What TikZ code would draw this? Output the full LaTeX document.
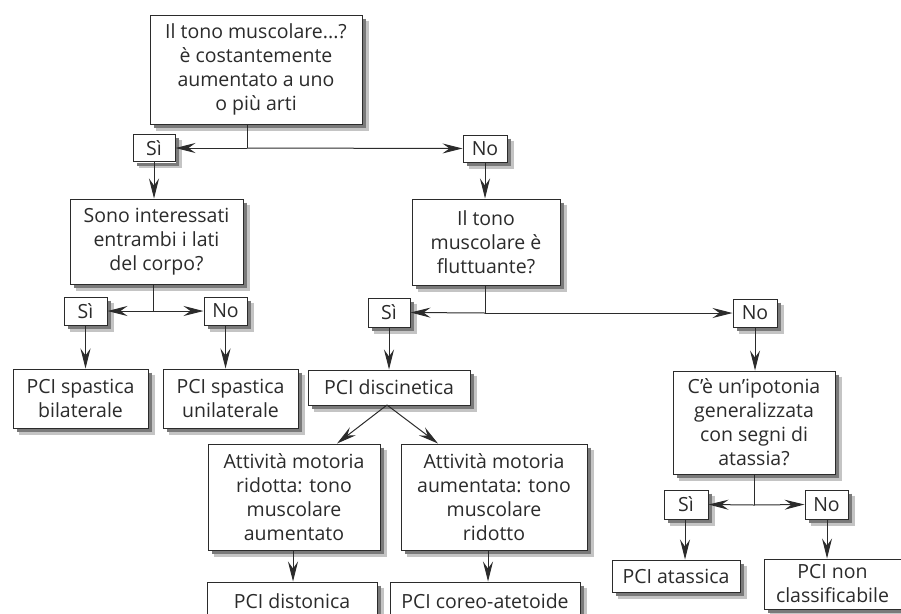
\documentclass[tikz,border=0pt]{standalone}
\usepackage{fontspec}
\setmainfont{Open Sans}
\usetikzlibrary{arrows.meta}
\definecolor{ink}{HTML}{2B2B2B}
\definecolor{shade}{HTML}{7A7A7A}
\definecolor{shadel}{HTML}{C4C4C4}
\tikzset{
  box/.style={draw=ink, line width=1pt, fill=white, align=center, inner sep=0pt,
    text=ink, font=\fontsize{19.5}{24}\selectfont},
  lab/.style={box},
  shadowA/.style={draw=shadel, line width=2.5pt},
  shadowB/.style={draw=shade, line width=3pt},
  arr/.style={draw=ink, line width=1pt, -{Stealth[length=20pt,width=10pt,inset=7pt,fill=ink]}},
  ln/.style={draw=ink, line width=1pt},
}
\begin{document}
\begin{tikzpicture}[x=1pt,y=-1pt]
\useasboundingbox (0,0) rectangle (901,613);
% question boxes
\node[box, minimum width=212, minimum height=109] (q1) at (256,69.5) {Il tono muscolare...?\\ è costantemente\\ aumentato a uno\\ o più arti};
\node[box, minimum width=173, minimum height=85] (q2) at (156.5,241.5) {Sono interessati\\ entrambi i lati\\ del corpo?};
\node[box, minimum width=148, minimum height=86] (q3) at (486,242) {Il tono\\ muscolare è\\ fluttuante?};
\node[box, minimum width=162, minimum height=103] (q4) at (754,422.5) {C’è un’ipotonia\\ generalizzata\\ con segni di\\ atassia?};
% yes/no labels
\node[lab, minimum width=42, minimum height=27] (si1) at (154,148) {Sì};
\node[lab, minimum width=44, minimum height=27] (no1) at (485,148.5) {No};
\node[lab, minimum width=43, minimum height=28] (si2) at (85.5,311) {Sì};
\node[lab, minimum width=43, minimum height=28] (no2) at (225.5,311) {No};
\node[lab, minimum width=42, minimum height=29] (si3) at (389,312.5) {Sì};
\node[lab, minimum width=44, minimum height=28] (no3) at (755,313) {No};
\node[lab, minimum width=44, minimum height=29] (si4) at (686,504.5) {Sì};
\node[lab, minimum width=43, minimum height=29] (no4) at (826.5,504.5) {No};
% results
\node[box, minimum width=135, minimum height=59] (spbil) at (80.5,398.5) {PCI spastica\\ bilaterale};
\node[box, minimum width=135, minimum height=59] (spuni) at (230.5,398.5) {PCI spastica\\ unilaterale};
\node[box, minimum width=162, minimum height=35] (disc) at (389,387.5) {PCI discinetica};
\node[box, minimum width=172, minimum height=106] (atr) at (294,497) {Attività motoria\\ ridotta: tono\\ muscolare\\ aumentato};
\node[box, minimum width=186, minimum height=106] (ata) at (494,497) {Attività motoria\\ aumentata: tono\\ muscolare\\ ridotto};
\node[box, minimum width=170, minimum height=38] (dist) at (292,601) {PCI distonica};
\node[box, minimum width=190, minimum height=38] (coreo) at (485,601) {PCI coreo-atetoide};
\node[box, minimum width=128, minimum height=32] (atas) at (676,576) {PCI atassica};
\node[box, minimum width=137, minimum height=50] (noncl) at (832.5,584) {PCI non\\ classificabile};
% shadows: strokes just outside the right and bottom edges
\foreach \n in {q1,q2,q3,q4,si1,no1,si2,no2,si3,no3,si4,no4,spbil,spuni,disc,atr,ata,dist,coreo,atas,noncl}{
  \draw[shadowA] ([shift={(4.75pt,-6pt)}]\n.north east) -- ([shift={(4.75pt,-4.75pt)}]\n.south east) -- ([shift={(6pt,-4.75pt)}]\n.south west);
  \draw[shadowB] ([shift={(2pt,-4pt)}]\n.north east) -- ([shift={(2pt,-2pt)}]\n.south east) -- ([shift={(4pt,-2pt)}]\n.south west);
}
% junctions
\coordinate (j1) at (247,148);
\coordinate (j2) at (153,311);
\coordinate (j3) at (485,313);
\coordinate (j4) at (754,505);
% connectors
\draw[ln] (q1.south -| j1) -- (j1);
\draw[arr] (j1) -- (si1.east);
\draw[arr] (j1) -- (no1.west);
\draw[arr] (si1.south) -- (q2.north -| si1.south);
\draw[arr] (no1.south) -- (q3.north -| no1.south);
\draw[ln] (q2.south -| j2) -- (j2);
\draw[arr] (j2) -- (si2.east);
\draw[arr] (j2) -- (no2.west);
\draw[arr] (si2.south) -- (spbil.north -| si2.south);
\draw[arr] (no2.south) -- (spuni.north -| no2.south);
\draw[ln] (q3.south -| j3) -- (j3);
\draw[arr] (j3) -- (si3.east);
\draw[arr] (j3) -- (no3.west);
\draw[arr] (si3.south) -- (disc.north -| si3.south);
\coordinate (dfoot) at (387,405);
\draw[arr] (dfoot) -- (atr.north -| 337,0);
\draw[arr] (dfoot) -- (ata.north -| 438,0);
\draw[arr] (atr.south -| 293,0) -- (dist.north -| 293,0);
\draw[arr] (ata.south -| 488,0) -- (coreo.north -| 488,0);
\draw[arr] (no3.south) -- (q4.north -| no3.south);
\draw[ln] (q4.south -| j4) -- (j4);
\draw[arr] (j4) -- (si4.east);
\draw[arr] (j4) -- (no4.west);
\draw[arr] (si4.south -| 685,0) -- (atas.north -| 685,0);
\draw[arr] (no4.south -| 827,0) -- (noncl.north -| 827,0);
\end{tikzpicture}
\end{document}
